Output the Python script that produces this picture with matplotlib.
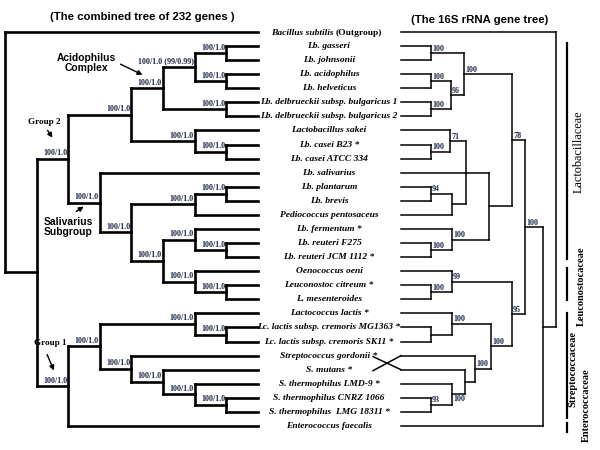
import matplotlib
matplotlib.use("Agg")
import matplotlib.pyplot as plt

# leaf names, in the order of the combined tree (row order of the centre column)
taxa = ["Bacillus subtilis", "Lb. gasseri", "Lb. johnsonii", "Lb. acidophilus",
        "Lb. helveticus", "Lb. delbrueckii subsp. bulgaricus 1",
        "Lb. delbrueckii subsp. bulgaricus 2", "Lactobacillus sakei",
        "Lb. casei B23 *", "Lb. casei ATCC 334", "Lb. salivarius", "Lb. plantarum",
        "Lb. brevis", "Pediococcus pentosaceus", "Lb. fermentum *",
        "Lb. reuteri F275", "Lb. reuteri JCM 1112 *", "Oenococcus oeni",
        "Leuconostoc citreum *", "L. mesenteroides", "Lactococcus lactis *",
        "Lc. lactis subsp. cremoris MG1363 *", "Lc. lactis subsp. cremoris SK11 *",
        "Streptococcus gordonii *", "S. mutans *", "S. thermophilus LMD-9 *",
        "S. thermophilus CNRZ 1066", "S. thermophilus  LMG 18311 *",
        "Enterococcus faecalis"]

# combined tree: (depth level, support, children); ints are leaves
combined_tree = (0, "", [0,
    (1, "", [
        (2, "100/1.0", [
            (4, "100/1.0", [
                (5, "100/1.0", [
                    (6, "100/1.0 (99/0.99)", [(7, "100/1.0", [1, 2]), (7, "100/1.0", [3, 4])]),
                    (7, "100/1.0", [5, 6])]),
                (6, "100/1.0", [7, (7, "100/1.0", [8, 9])])]),
            (3, "100/1.0", [10,
                (4, "100/1.0", [
                    (6, "100/1.0", [(7, "100/1.0", [11, 12]), 13]),
                    (5, "100/1.0", [
                        (6, "100/1.0", [14, (7, "100/1.0", [15, 16])]),
                        (6, "100/1.0", [17, (7, "100/1.0", [18, 19])])])])])]),
        (2, "100/1.0", [
            (3, "100/1.0", [
                (6, "100/1.0", [20, (7, "100/1.0", [21, 22])]),
                (4, "100/1.0", [23,
                    (5, "100/1.0", [24,
                        (6, "100/1.0", [25, (7, "100/1.0", [26, 27])])])])]),
            28])])])

# 16S rRNA tree: (node height from the leaves, bootstrap, children)
rrna_tree = (155, "", [0,
    (142, "", [
        (124, "100", [
            (111, "78", [
                (63, "100", [(30, "100", [1, 2]),
                             (50, "96", [(30, "100", [3, 4]), (30, "100", [5, 6])])]),
                (88, "", [
                    (65, "", [(49, "71", [7, (30, "100", [8, 9])]), 10,
                              (51, "", [(30, "94", [11, 12]), 13])]),
                    (51, "100", [14, (30, "100", [15, 16])])])]),
            (111, "95", [
                (51, "99", [17, (30, "100", [18, 19])]),
                (90, "100", [
                    (51, "100", [20, (30, "", [21, 22])]),
                    (74, "100", [24, (64, "", [23,
                        (51, "100", [25, (30, "93", [26, 27])], "below")])])])])]),
        28])])
rrna_order = [0, 1, 2, 3, 4, 5, 6, 7, 8, 9, 10, 11, 12, 13, 14, 15, 16, 17, 18,
              19, 20, 21, 22, 24, 23, 25, 26, 27, 28]

families = ["Lactobacillaceae", "Leuconostocaceae", "Streptococcaceae", "Enterococcaceae"]

SERIF = "Liberation Serif"
SANS = "Liberation Sans"
LBL = "#1d2748"

fig = plt.figure(figsize=(6, 4.5), dpi=100)
ax = fig.add_axes([0, 0, 1, 1])
ax.set_xlim(0, 600)
ax.set_ylim(450, 0)
ax.axis("off")

def row_y(i):
    return 32 + i * 14.07

def draw_left(node):
    if isinstance(node, int):
        return 258, row_y(node)
    depth, sup, kids = node[:3]
    x = 5 + depth * 31.6
    pts = [draw_left(k) for k in kids]
    ys = [p[1] for p in pts]
    for cx, cy in pts:
        ax.plot([x, cx], [cy, cy], color="black", lw=1.9, solid_capstyle="projecting")
    ax.plot([x, x], [min(ys), max(ys)], color="black", lw=1.9, solid_capstyle="projecting")
    y = (min(ys) + max(ys)) / 2
    if sup:
        ax.text(x - 1, y - 1.5, sup, ha="right", va="bottom", fontsize=5.8,
                family=SERIF, weight="bold", color=LBL)
    return x, y

right_row = {leaf: r for r, leaf in enumerate(rrna_order)}

def draw_right(node):
    if isinstance(node, int):
        return 401, row_y(right_row[node])
    h, sup, kids = node[:3]
    x = 401 + h
    pts = [draw_right(k) for k in kids]
    ys = [p[1] for p in pts]
    for cx, cy in pts:
        ax.plot([cx, x], [cy, cy], color="black", lw=1.1, solid_capstyle="projecting")
    ax.plot([x, x], [min(ys), max(ys)], color="black", lw=1.1, solid_capstyle="projecting")
    y = (min(ys) + max(ys)) / 2
    if sup:
        below = len(node) > 3
        ax.text(x + 1, y + (8.5 if below else -0.5), sup, ha="left", va="bottom",
                fontsize=5.8, family=SERIF, weight="bold", color=LBL)
    return x, y

draw_left(combined_tree)
draw_right(rrna_tree)

# leaves whose rows differ between the two trees get crossing connectors
for i in range(len(taxa)):
    r = right_row[i]
    if r != i:
        ax.plot([373, 401], [row_y(i) + 1, row_y(r)], color="black", lw=1.1)

# centre labels
for i, name in enumerate(taxa):
    if i == 0:
        ax.text(334, row_y(i) + 3, name, ha="right", va="baseline", fontsize=6.8,
                family=SERIF, weight="bold", style="italic")
        ax.text(336, row_y(i) + 3, "(Outgroup)", ha="left", va="baseline", fontsize=6.8,
                family=SERIF, weight="bold")
    else:
        ax.text(329, row_y(i), name, ha="center", va="center", fontsize=6.8,
                family=SERIF, weight="bold", style="italic")

# titles
ax.text(142, 17, "(The combined tree of 232 genes )", ha="center", va="center",
        fontsize=8.2, family=SANS, weight="bold")
ax.text(480, 20, "(The 16S rRNA gene tree)", ha="center", va="center",
        fontsize=8.2, family=SANS, weight="bold")

# group annotations
ax.text(86, 63, "Acidophilus\nComplex", ha="center", va="center", fontsize=7.4,
        family=SANS, weight="bold", linespacing=1.0)
ax.annotate("", xy=(145, 76), xytext=(118, 63),
            arrowprops=dict(arrowstyle="-|>", color="black", lw=1.0, mutation_scale=7))
ax.text(44, 122, "Group 2", ha="center", va="center", fontsize=6.6,
        family=SERIF, weight="bold")
ax.annotate("", xy=(54, 140), xytext=(46, 128),
            arrowprops=dict(arrowstyle="-|>", color="black", lw=1.0, mutation_scale=7))
ax.text(68, 227, "Salivarius\nSubgroup", ha="center", va="center", fontsize=7.4,
        family=SANS, weight="bold", linespacing=1.0)
ax.annotate("", xy=(86, 205), xytext=(74, 213),
            arrowprops=dict(arrowstyle="-|>", color="black", lw=1.0, mutation_scale=7))
ax.text(50, 343, "Group 1", ha="center", va="center", fontsize=6.6,
        family=SERIF, weight="bold")
ax.annotate("", xy=(55, 373), xytext=(46, 352),
            arrowprops=dict(arrowstyle="-|>", color="black", lw=1.0, mutation_scale=7))

# family bars and names
bars = [(43, 259), (268, 300), (313, 418), (423, 432)]
name_pos = [(579, 152, "normal", 8.8), (581, 286, "bold", 7.5),
            (573, 369, "bold", 7.5), (586, 405, "bold", 7.5)]
for (y0, y1), (tx, ty, w, fs), fam in zip(bars, name_pos, families):
    ax.plot([567, 567], [y0, y1], color="black", lw=1.6)
    ax.text(tx, ty, fam, rotation=90, ha="center", va="center", fontsize=fs,
            family=SERIF, weight=w)

fig.savefig("out.png", dpi=100)
